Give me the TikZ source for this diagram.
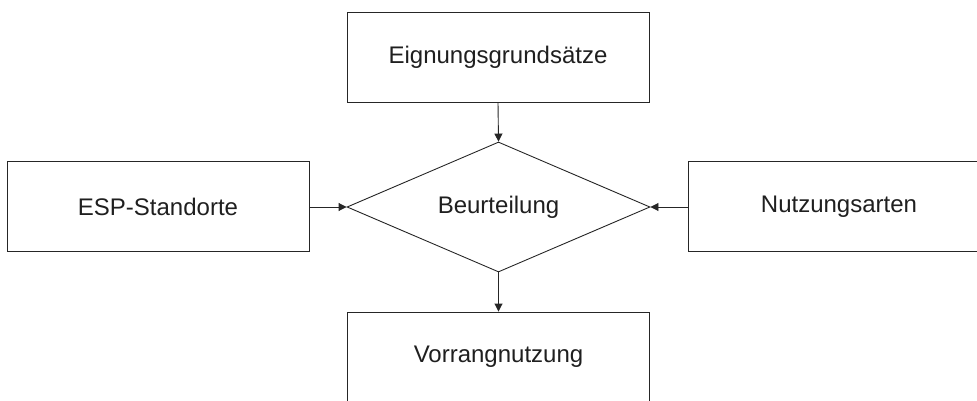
\documentclass[tikz,border=0pt]{standalone}
\usepackage{fontspec}
\setmainfont{Liberation Sans}
\usetikzlibrary{shapes.geometric,arrows.meta}
\tikzset{
  box/.style={draw=black!85, line width=0.9pt, minimum width=302pt, minimum height=90pt, inner sep=0pt, text=black!88, font=\fontsize{24}{28}\selectfont},
  decide/.style={draw=black!85, line width=0.9pt, diamond, aspect=2.33, minimum width=303pt, minimum height=130pt, inner sep=0pt, text=black!88, font=\fontsize{24}{28}\selectfont},
  conn/.style={draw=black!85, line width=0.9pt, -{Triangle[length=8pt,width=8pt]}}
}
\begin{document}
\begin{tikzpicture}[x=1pt,y=-1pt]
\useasboundingbox (0,0) rectangle (977,401);
\clip (0,0) rectangle (977,401);
\node[box] (eign) at (498,57) {Eignungsgrundsätze};
\node[box] (esp) at (158,206.5) {ESP-Standorte};
\node[box] (nutz) at (839,206.5) {Nutzungsarten};
\node[decide] (beur) at (498.5,207) {Beurteilung};
\node[box] (vorr) at (498.5,357) {Vorrangnutzung};
\draw[conn] (eign.south) -- (beur.north);
\draw[conn] (esp.east |- beur.west) -- (beur.west);
\draw[conn] (nutz.west |- beur.east) -- (beur.east);
\draw[conn] (beur.south) -- (vorr.north);
\end{tikzpicture}
\end{document}
